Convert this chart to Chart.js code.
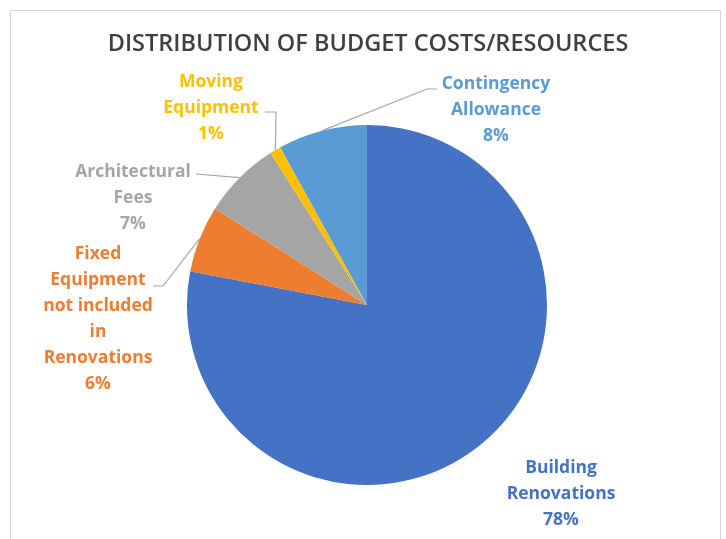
<!DOCTYPE html>
<html>
<head>
<meta charset="utf-8">
<script src="https://cdn.jsdelivr.net/npm/chart.js@4/dist/chart.umd.min.js"></script>
<style>
  html, body { margin: 0; padding: 0; background: #fff; }
  #wrap { position: relative; width: 726px; height: 539px; }
  #frame { position: absolute; left: 10px; top: 10px; width: 711px; height: 540px;
           border: 1px solid #d4d4d4; box-sizing: border-box; }
  canvas { position: absolute; left: 0; top: 0; }
</style>
</head>
<body>
<div id="wrap">
  <div id="frame"></div>
  <canvas id="pie" width="726" height="539"></canvas>
</div>
<script>
// Budget split, clockwise from 12 o'clock
const categories = [
  ['Building', 'Renovations'],
  ['Fixed', 'Equipment', 'not included', 'in', 'Renovations'],
  ['Architectural', 'Fees'],
  ['Moving', 'Equipment'],
  ['Contingency', 'Allowance']
];
const shares = [78, 6, 7, 1, 8];
const colors = ['#4472C4', '#ED7D31', '#A5A5A5', '#FFC000', '#5B9BD5'];
const chartTitle = 'DISTRIBUTION OF BUDGET COSTS/RESOURCES';

// label block anchor (centre x, first line middle y) and leader path
const labelPos = [
  { x: 561, y: 468, leader: null },
  { x: 98,  y: 254, leader: [[163, 286], [153, 286]] },
  { x: 133, y: 172, leader: [[196, 174]] },
  { x: 211, y: 82,  leader: [[276, 112], [265, 112]] },
  { x: 496, y: 84,  leader: [[427, 89], [437, 89]] }
];

const FONT = "'Open Sans', sans-serif";

const pieLabels = {
  id: 'pieLabels',
  afterDatasetsDraw(chart) {
    const ctx = chart.ctx;
    const meta = chart.getDatasetMeta(0);
    ctx.save();
    ctx.textAlign = 'center';
    ctx.textBaseline = 'middle';

    // heading
    ctx.fillStyle = '#404040';
    ctx.font = `600 23.5px ${FONT}`;
    ctx.fillText(chartTitle, 368, 44);

    meta.data.forEach((arc, i) => {
      const p = labelPos[i];
      const mid = (arc.startAngle + arc.endAngle) / 2;
      if (p.leader) {
        ctx.strokeStyle = '#a6a6a6';
        ctx.lineWidth = 1.2;
        ctx.beginPath();
        ctx.moveTo(arc.x + Math.cos(mid) * arc.outerRadius, arc.y + Math.sin(mid) * arc.outerRadius);
        p.leader.forEach(pt => ctx.lineTo(pt[0], pt[1]));
        ctx.stroke();
      }
      ctx.fillStyle = colors[i];
      ctx.font = `bold 17.5px ${FONT}`;
      const lines = categories[i].concat(shares[i] + '%');
      lines.forEach((t, k) => ctx.fillText(t, p.x, p.y + k * 26));
    });
    ctx.restore();
  }
};

new Chart(document.getElementById('pie'), {
  type: 'pie',
  data: {
    labels: categories.map(c => c.join(' ')),
    datasets: [{
      data: shares,
      backgroundColor: colors,
      borderWidth: 0
    }]
  },
  options: {
    responsive: false,
    animation: false,
    layout: { padding: { left: 187, right: 179, top: 125, bottom: 54 } },
    plugins: {
      legend: { display: false },
      tooltip: { enabled: false },
      title: { display: false }
    }
  },
  plugins: [pieLabels]
});
</script>
</body>
</html>
